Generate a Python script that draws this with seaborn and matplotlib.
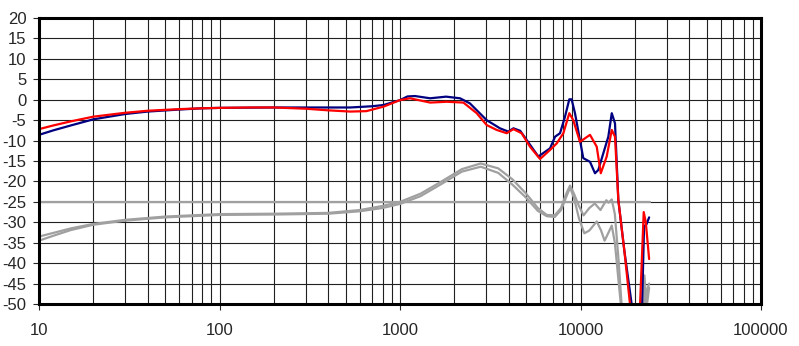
import numpy as np
import pandas as pd
import matplotlib
matplotlib.use('Agg')
import matplotlib.pyplot as plt
import matplotlib.ticker as mticker
import seaborn as sns

# Frequencias (Hz) e niveis (dB)
freq_navy = [10, 12, 15, 20, 30, 40, 60, 80, 100, 200, 300, 400, 530, 700, 810, 1000,
             1100, 1210, 1470, 1800, 2150, 2440, 3020, 3580, 3980, 4250, 4630, 5040,
             5840, 6780, 7230, 7700, 8200, 8670, 8930, 9320, 9930, 10360, 11290, 12030,
             12550, 13380, 14260, 14900, 15530, 16200, 17500, 19200, 20500, 21800,
             22500, 23200, 24000]
db_navy = [-8.6, -7.5, -6.3, -4.8, -3.5, -2.9, -2.4, -2.1, -2.0, -1.9, -1.9, -1.9, -1.9,
           -1.6, -1.3, -0.1, 0.8, 0.9, 0.35, 0.75, 0.35, -0.9, -5.0, -7.0, -7.8, -7.0,
           -7.6, -9.9, -13.9, -11.9, -9.05, -8.2, -4.2, 0.1, 0.1, -3.3, -9.9, -14.3,
           -15.2, -18.0, -17.2, -13.1, -9.05, -3.3, -5.8, -24.5, -37.0, -50.0, -60.0,
           -55.0, -31.0, -30.5, -28.8]

freq_red = [10, 12, 15, 20, 30, 40, 60, 80, 100, 150, 200, 300, 400, 530, 650, 810, 1000,
            1135, 1470, 1815, 2245, 2660, 3020, 3435, 3900, 4250, 4720, 5250, 5970, 6780,
            7380, 8035, 8670, 9120, 9930, 11290, 12300, 12950, 13970, 14900, 15530,
            16200, 17500, 18800, 20000, 21300, 22400, 23000, 24000]
db_red = [-7.2, -6.3, -5.3, -4.15, -3.2, -2.7, -2.3, -2.1, -2.0, -1.9, -1.9, -2.2, -2.6,
          -2.9, -2.8, -1.7, -0.1, 0.35, -0.7, -0.5, -0.7, -3.3, -6.2, -7.4, -8.2, -7.2,
          -8.2, -11.5, -14.5, -12.3, -10.7, -8.2, -3.3, -5.0, -10.3, -8.6, -11.5, -18.0,
          -13.9, -7.4, -9.05, -24.5, -37.0, -50.0, -60.0, -52.0, -27.5, -30.0, -39.0]

freq_gray_a = [10, 12, 15, 20, 30, 50, 100, 200, 400, 600, 800, 1000, 1300, 1700, 2200,
               2800, 3500, 4200, 5000, 5800, 6500, 7200, 7800, 8300, 8750, 9200, 9800,
               10400, 11200, 12000, 12900, 13900, 14300, 14900, 15500, 16300, 17000,
               18000, 21800, 22600, 23100, 23600, 24000]
db_gray_a = [-33.5, -32.6, -31.5, -30.4, -29.4, -28.6, -28.0, -27.9, -27.7, -27.0, -26.0,
             -25.0, -23.0, -20.0, -17.0, -15.6, -16.8, -19.5, -23.0, -26.5, -28.2, -28.3,
             -26.5, -23.2, -21.0, -23.0, -26.0, -28.3, -26.5, -25.4, -27.0, -24.6, -25.2,
             -24.4, -28.0, -40.0, -52.0, -60.0, -60.0, -43.0, -49.0, -46.0, -45.0]

freq_gray_b = [10, 12, 15, 20, 30, 50, 100, 200, 400, 600, 800, 1000, 1300, 1700, 2200,
               2800, 3500, 4200, 5000, 5800, 6500, 7200, 7800, 8300, 8750, 9200, 9800,
               10500, 11200, 12300, 13000, 13600, 14300, 14900, 15500, 16300, 16900,
               18000, 22000, 22800, 23300, 24000]
db_gray_b = [-34.5, -33.3, -31.9, -30.6, -29.6, -28.8, -28.2, -28.1, -27.9, -27.3, -26.5,
             -25.5, -23.6, -20.6, -17.6, -16.4, -17.9, -20.8, -24.0, -27.2, -28.5, -28.7,
             -27.0, -24.0, -21.5, -24.0, -29.0, -32.7, -32.0, -29.8, -32.0, -34.5, -32.5,
             -30.8, -35.0, -45.0, -52.0, -60.0, -60.0, -47.0, -50.5, -46.0]

# Linha de referencia horizontal
freq_ref = [10, 24300]
db_ref = [-25, -25]

y_ticks = list(range(-50, 25, 5))
x_ticks = [10, 100, 1000, 10000, 100000]

sns.set_style('white')
plt.rcParams['font.family'] = ['Liberation Sans', 'DejaVu Sans']
plt.rcParams['axes.unicode_minus'] = False

fig = plt.figure(figsize=(7.99, 3.46), dpi=100)
ax = fig.add_axes([39 / 799, 42 / 346, 722 / 799, 286 / 346])

gray = '#a0a0a0'
series = [
    (freq_ref, db_ref, gray),
    (freq_gray_b, db_gray_b, gray),
    (freq_gray_a, db_gray_a, gray),
    (freq_navy, db_navy, '#000080'),
    (freq_red, db_red, '#ff0000'),
]
for f, d, cor in series:
    df = pd.DataFrame({'freq': f, 'db': d})
    sns.lineplot(data=df, x='freq', y='db', ax=ax, color=cor, linewidth=1.6,
                 estimator=None, sort=False, zorder=3)

ax.set_xscale('log')
ax.set_xlim(10, 100000)
ax.set_ylim(-50, 20)
ax.set_xticks(x_ticks)
ax.xaxis.set_major_formatter(mticker.FuncFormatter(lambda v, p: f'{int(v)}'))
ax.xaxis.set_minor_locator(mticker.LogLocator(base=10, subs=np.arange(2, 10)))
ax.xaxis.set_minor_formatter(mticker.NullFormatter())
ax.set_yticks(y_ticks)
ax.set_xlabel('')
ax.set_ylabel('')

# Grade preta fina
ax.grid(True, which='major', axis='both', color='#202020', linewidth=0.8)
ax.grid(True, which='minor', axis='x', color='#202020', linewidth=0.8)
ax.set_axisbelow(True)

for s in ax.spines.values():
    s.set_visible(True)
    s.set_color('black')
    s.set_linewidth(2.2)
    s.set_zorder(5)

ax.tick_params(axis='x', which='major', direction='out', length=4, width=0.8,
               pad=10, labelsize=12, bottom=True)
ax.tick_params(axis='x', which='minor', length=0, bottom=False)
ax.tick_params(axis='y', which='major', direction='out', length=4, width=0.8,
               pad=5, labelsize=12, left=True)

fig.savefig('out.png', dpi=100)
